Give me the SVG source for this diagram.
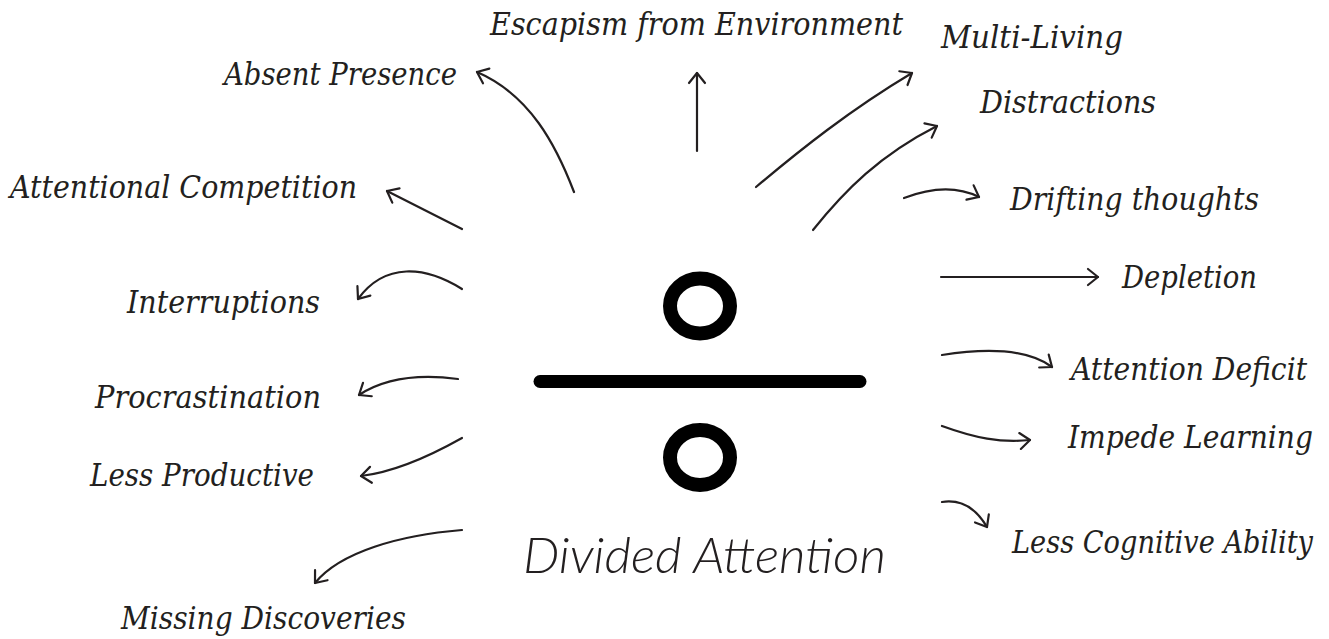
<svg xmlns="http://www.w3.org/2000/svg" width="1329" height="639" viewBox="0 0 1329 639">
<style>
.lbl{font-family:"DejaVu Serif","Liberation Serif",serif;font-style:italic;font-size:31px;fill:#231f20}
.r{text-anchor:end}
.ttl{font-family:Lato,"Open Sans",sans-serif;font-style:italic;font-weight:300;font-size:50px;fill:#231f20}
.con{fill:none;stroke:#231f20;stroke-width:2.2;stroke-linecap:round;marker-end:url(#ah)}
.sym{fill:none;stroke:#000;stroke-width:14}
</style>
<defs>
<marker id="ah" markerUnits="userSpaceOnUse" viewBox="-1 -10 14 20" refX="11" refY="0" markerWidth="14" markerHeight="20" orient="auto" overflow="visible">
<path d="M1,-8 L11,0 L1,8" fill="none" stroke="#231f20" stroke-width="2.2" stroke-linecap="round" stroke-linejoin="round"/>
</marker>
</defs>
<rect width="1329" height="639" fill="#fff"/>
<g id="center">
<ellipse class="sym" cx="700" cy="306" rx="30" ry="27.5"/>
<line x1="540" y1="381.5" x2="860" y2="381.5" stroke="#000" stroke-width="13" stroke-linecap="round"/>
<ellipse class="sym" cx="700" cy="457.5" rx="30" ry="27.5"/>
<text class="ttl" x="523" y="573" textLength="363" lengthAdjust="spacingAndGlyphs">Divided Attention</text>
</g>
<g id="connectors">
<path class="con" d="M574,192 C556,145 530,95 477,72"/>
<path class="con" d="M697,151 L697,73"/>
<path class="con" d="M756,187 C800,150 850,110 912,73"/>
<path class="con" d="M813,230 C845,190 880,155 937,126"/>
<path class="con" d="M904,198 C930,188 955,185 979,197"/>
<path class="con" d="M941,277 L1098,277"/>
<path class="con" d="M942,355 C980,349 1025,347 1052,367"/>
<path class="con" d="M942,426 C975,438 1000,443 1030,440"/>
<path class="con" d="M942,502 C962,499 977,510 987,527"/>
<path class="con" d="M462,229 L387,191"/>
<path class="con" d="M462,289 C425,266 385,262 358,299"/>
<path class="con" d="M458,379 C420,374 385,378 359,395"/>
<path class="con" d="M462,438 C430,456 395,472 361,476"/>
<path class="con" d="M462,530 C400,535 340,552 315,583"/>
</g>
<g id="n-absent"><text class="lbl" x="224" y="85" textLength="233" lengthAdjust="spacingAndGlyphs">Absent Presence</text></g>
<g id="n-escapism"><text class="lbl" x="490" y="35" textLength="413" lengthAdjust="spacingAndGlyphs">Escapism from Environment</text></g>
<g id="n-multi"><text class="lbl" x="941" y="48" textLength="182" lengthAdjust="spacingAndGlyphs">Multi-Living</text></g>
<g id="n-distractions"><text class="lbl" x="980" y="113" textLength="176" lengthAdjust="spacingAndGlyphs">Distractions</text></g>
<g id="n-drifting"><text class="lbl r" x="1259" y="210" textLength="249" lengthAdjust="spacingAndGlyphs">Drifting thoughts</text></g>
<g id="n-depletion"><text class="lbl r" x="1257" y="288" textLength="135" lengthAdjust="spacingAndGlyphs">Depletion</text></g>
<g id="n-deficit"><text class="lbl r" x="1307" y="380" textLength="236" lengthAdjust="spacingAndGlyphs">Attention Deficit</text></g>
<g id="n-impede"><text class="lbl r" x="1313" y="448" font-size="29" textLength="245" lengthAdjust="spacingAndGlyphs">Impede Learning</text></g>
<g id="n-cognitive"><text class="lbl r" x="1313" y="553" font-size="28" textLength="301" lengthAdjust="spacingAndGlyphs">Less Cognitive Ability</text></g>
<g id="n-competition"><text class="lbl" x="10" y="198" textLength="347" lengthAdjust="spacingAndGlyphs">Attentional Competition</text></g>
<g id="n-interruptions"><text class="lbl" x="127" y="313" textLength="193" lengthAdjust="spacingAndGlyphs">Interruptions</text></g>
<g id="n-procrastination"><text class="lbl" x="95" y="408" textLength="226" lengthAdjust="spacingAndGlyphs">Procrastination</text></g>
<g id="n-lessproductive"><text class="lbl" x="90" y="486" textLength="224" lengthAdjust="spacingAndGlyphs">Less Productive</text></g>
<g id="n-missing"><text class="lbl" x="121" y="629" textLength="285" lengthAdjust="spacingAndGlyphs">Missing Discoveries</text></g>
</svg>
